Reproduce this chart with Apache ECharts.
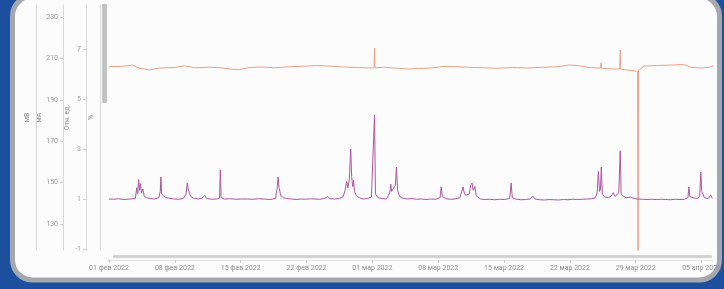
<!DOCTYPE html>
<html>
<head>
<meta charset="utf-8">
<script src="https://cdn.jsdelivr.net/npm/echarts@6/dist/echarts.min.js"></script>
<style>
  html, body { margin: 0; padding: 0; background: #1d4f9f; }
  #chart { width: 724px; height: 289px; }
</style>
</head>
<body>
<div id="chart"></div>
<script>
// x is in days from 01.02.2022
const tickDays = [0, 7, 14, 21, 28, 35, 42, 49, 56, 63];
const tickLabels = ['01 фев 2022', '08 фев 2022', '15 фев 2022', '22 фев 2022', '01 мар 2022',
  '08 мар 2022', '15 мар 2022', '22 мар 2022', '29 мар 2022', '05 апр 2022'];

// left scale (not used by series), ticks only
const leftTicks = [130, 150, 170, 190, 210, 230];
// relative units scale
const relTicks = [-1, 1, 3, 5, 7];

// orange signal [day, value]
const orangeSeries = [
  [0.0, 6.29], [1.5, 6.31], [2.5, 6.36], [3.3, 6.22], [4.3, 6.17], [5.4, 6.24], [7.0, 6.26],
  [8.0, 6.33], [9.1, 6.25], [10.7, 6.27], [11.9, 6.25], [13.0, 6.19], [13.9, 6.18], [14.9, 6.26],
  [16.2, 6.28], [17.6, 6.25], [19.1, 6.29], [20.7, 6.31], [22.1, 6.34], [23.4, 6.32], [25.0, 6.28],
  [26.5, 6.26], [27.9, 6.24], [28.18, 6.25], [28.23, 7.04], [28.28, 6.25], [29.2, 6.27],
  [30.8, 6.23], [31.8, 6.20], [32.9, 6.22], [34.3, 6.24], [35.5, 6.30], [36.9, 6.29], [38.2, 6.27],
  [39.8, 6.25], [41.3, 6.23], [42.9, 6.26], [44.5, 6.24], [46.1, 6.27], [47.7, 6.29], [48.9, 6.36],
  [50.0, 6.33], [51.1, 6.26], [51.9, 6.24], [52.25, 6.24], [52.32, 6.44], [52.38, 6.23],
  [53.2, 6.21], [54.0, 6.20], [54.3, 6.20], [54.35, 6.96], [54.4, 6.20], [55.1, 6.16],
  [55.9, 6.12], [56.2, 6.11], [56.25, -1.5], [56.3, 6.14], [56.9, 6.32], [58.3, 6.34],
  [59.8, 6.36], [61.1, 6.38], [61.96, 6.26], [63.0, 6.24], [63.8, 6.27], [64.3, 6.33]
];

// purple signal [day, value]
const purpleSeries = [
  [0.0, 1.00], [0.5, 0.99], [1.0, 1.01], [1.6, 0.98], [2.2, 1.00], [2.8, 1.02], [2.95, 1.45],
  [3.05, 1.20], [3.15, 1.78], [3.25, 1.35], [3.35, 1.62], [3.45, 1.25], [3.6, 1.40], [3.75, 1.10],
  [4.0, 1.05], [4.4, 1.02], [4.8, 1.00], [5.3, 1.05], [5.45, 1.30], [5.52, 1.88], [5.6, 1.20],
  [5.75, 1.12], [6.0, 1.06], [6.4, 1.03], [6.9, 1.00], [7.4, 0.99], [7.9, 1.02], [8.2, 1.20],
  [8.32, 1.64], [8.42, 1.40], [8.55, 1.25], [8.7, 1.10], [9.0, 1.03], [9.5, 1.00], [9.9, 1.04],
  [10.15, 1.15], [10.4, 1.02], [10.9, 0.99], [11.4, 1.00], [11.75, 1.03], [11.84, 2.16],
  [11.92, 1.05], [12.3, 1.00], [12.9, 1.01], [13.5, 0.99], [14.1, 1.00], [14.7, 1.00],
  [15.3, 0.99], [15.9, 1.01], [16.5, 1.00], [17.1, 0.98], [17.7, 1.02], [17.88, 1.45],
  [17.98, 1.88], [18.08, 1.45], [18.25, 1.15], [18.5, 1.05], [18.9, 1.02], [19.4, 1.00],
  [19.9, 0.98], [20.4, 1.00], [20.9, 0.99], [21.4, 1.01], [21.9, 1.00], [22.4, 0.99],
  [22.9, 1.02], [23.26, 1.10], [23.5, 1.01], [24.0, 1.00], [24.5, 1.02], [24.9, 1.10],
  [25.1, 1.35], [25.27, 1.70], [25.4, 1.45], [25.55, 1.80], [25.7, 3.00], [25.8, 1.90],
  [25.9, 1.50], [26.0, 1.75], [26.1, 1.30], [26.3, 1.15], [26.6, 1.05], [27.0, 1.00],
  [27.5, 1.02], [27.9, 1.08], [28.1, 1.15], [28.23, 4.36], [28.33, 1.20], [28.6, 1.05],
  [29.0, 1.02], [29.5, 1.00], [29.85, 1.25], [29.95, 1.60], [30.05, 1.30], [30.2, 1.40],
  [30.45, 1.55], [30.56, 2.28], [30.68, 1.35], [30.9, 1.10], [31.2, 1.04], [31.7, 1.00],
  [32.2, 1.02], [32.7, 0.99], [33.2, 1.00], [33.7, 0.98], [34.2, 1.00], [34.7, 0.99],
  [35.2, 1.05], [35.32, 1.48], [35.45, 1.10], [35.8, 1.01], [36.3, 0.99], [36.8, 1.00],
  [37.3, 1.05], [37.5, 1.30], [37.64, 1.48], [37.75, 1.28], [37.9, 1.15], [38.3, 1.20],
  [38.45, 1.55], [38.6, 1.64], [38.72, 1.35], [38.9, 1.50], [39.05, 1.12], [39.5, 1.00],
  [40.0, 0.98], [40.5, 0.99], [41.0, 0.97], [41.5, 0.99], [42.0, 0.98], [42.6, 1.02],
  [42.75, 1.64], [42.88, 1.05], [43.3, 0.99], [43.8, 0.97], [44.3, 0.98], [44.8, 1.00],
  [45.05, 1.12], [45.3, 1.00], [45.8, 0.97], [46.3, 0.96], [46.8, 0.98], [47.3, 0.97],
  [47.8, 0.96], [48.3, 0.98], [48.8, 0.97], [49.3, 0.99], [49.8, 0.98], [50.3, 0.99],
  [50.8, 1.00], [51.3, 1.01], [51.7, 1.05], [51.9, 1.25], [52.03, 2.10], [52.15, 1.30],
  [52.25, 1.40], [52.34, 2.28], [52.45, 1.20], [52.7, 1.08], [53.1, 1.05], [53.4, 1.12],
  [53.6, 1.25], [53.8, 1.10], [54.0, 1.15], [54.2, 1.25], [54.35, 2.92], [54.45, 1.20],
  [54.7, 1.10], [55.0, 1.05], [55.4, 1.08], [55.8, 1.02], [56.2, 1.00], [56.7, 0.99],
  [57.2, 0.98], [57.7, 0.99], [58.2, 0.98], [58.7, 0.99], [59.2, 0.98], [59.7, 0.97],
  [60.2, 0.99], [60.7, 0.98], [61.2, 0.99], [61.55, 1.05], [61.65, 1.48], [61.75, 1.10],
  [62.1, 1.05], [62.5, 1.02], [62.8, 1.10], [62.92, 2.08], [63.02, 1.30], [63.3, 1.05],
  [63.7, 1.02], [63.98, 1.15], [64.15, 1.03]
];

const chart = echarts.init(document.getElementById('chart'));

const axisLineGrey = { show: true, onZero: false, lineStyle: { color: '#d8d8d8', width: 1 } };
const nameStyle = { color: '#8a8a8a', fontSize: 7, fontFamily: 'Roboto', padding: [0, 0, 0, 20] };

chart.setOption({
  backgroundColor: '#1d4f9f',
  animation: false,
  graphic: [
    {
      type: 'rect', z: -10,
      shape: { x: 12.5, y: -4, width: 707, height: 284, r: 20 },
      style: { fill: '#fcfcfc', stroke: '#a4a8ae', lineWidth: 5 }
    },
    {
      // vertical scroll bar
      type: 'rect', z: 5,
      shape: { x: 102, y: 4, width: 5, height: 99, r: 1 },
      style: { fill: '#c2c2c2' }
    },
    {
      // horizontal scroll bar
      type: 'rect', z: 5,
      shape: { x: 113, y: 255, width: 599, height: 3, r: 1 },
      style: { fill: '#d2d2d2' }
    }
  ],
  grid: { left: 108, right: 8, top: 5, bottom: 39 },
  xAxis: {
    type: 'value',
    min: -0.106,
    max: 64.19,
    offset: 10,
    splitLine: { show: false },
    axisLine: { show: true, onZero: false, lineStyle: { color: '#e4e4e4' } },
    axisTick: { show: true, length: 3, customValues: tickDays, lineStyle: { color: '#cfcfcf' } },
    axisLabel: {
      customValues: tickDays,
      fontSize: 7, color: '#8d8d8d', fontFamily: 'Roboto', margin: 5,
      formatter: v => tickLabels[tickDays.indexOf(v)] || ''
    }
  },
  yAxis: [
    {
      // 130..230 scale
      type: 'value', position: 'left', offset: 45,
      min: 117.4, max: 235.8,
      name: 'мА', nameLocation: 'middle', nameGap: 20, nameMoveOverlap: false, nameTextStyle: nameStyle,
      splitLine: { show: false },
      axisLine: axisLineGrey,
      axisTick: { show: true, length: 3, customValues: leftTicks, lineStyle: { color: '#cfcfcf' } },
      axisLabel: { customValues: leftTicks, fontSize: 7, color: '#9a9a9a', fontFamily: 'Roboto', margin: 5 }
    },
    {
      // relative units
      type: 'value', position: 'left', offset: 22,
      min: -1.04, max: 8.76,
      name: 'Отн. ед.', nameLocation: 'middle', nameGap: 15, nameMoveOverlap: false, nameTextStyle: nameStyle,
      splitLine: { show: false },
      axisLine: axisLineGrey,
      axisTick: { show: true, length: 3, customValues: relTicks, lineStyle: { color: '#cfcfcf' } },
      axisLabel: { customValues: relTicks, fontSize: 7, color: '#9a9a9a', fontFamily: 'Roboto', margin: 5 }
    },
    {
      type: 'value', position: 'left', offset: 8,
      min: 0, max: 100,
      name: '%', nameLocation: 'middle', nameGap: 5, nameMoveOverlap: false, nameTextStyle: nameStyle,
      splitLine: { show: false },
      axisLine: axisLineGrey,
      axisTick: { show: false },
      axisLabel: { show: false }
    },
    {
      type: 'value', position: 'left', offset: 72,
      min: 0, max: 100,
      name: 'мВ', nameLocation: 'middle', nameGap: 5, nameMoveOverlap: false, nameTextStyle: nameStyle,
      splitLine: { show: false },
      axisLine: axisLineGrey,
      axisTick: { show: false },
      axisLabel: { show: false }
    }
  ],
  series: [
    {
      name: 'orange',
      type: 'line',
      yAxisIndex: 1,
      data: orangeSeries,
      showSymbol: false,
      clip: true,
      lineStyle: { color: '#eb9f86', width: 1 }
    },
    {
      name: 'purple',
      type: 'line',
      yAxisIndex: 1,
      data: purpleSeries,
      showSymbol: false,
      clip: true,
      lineStyle: { color: '#ad55a3', width: 1 }
    }
  ]
});
</script>
</body>
</html>
